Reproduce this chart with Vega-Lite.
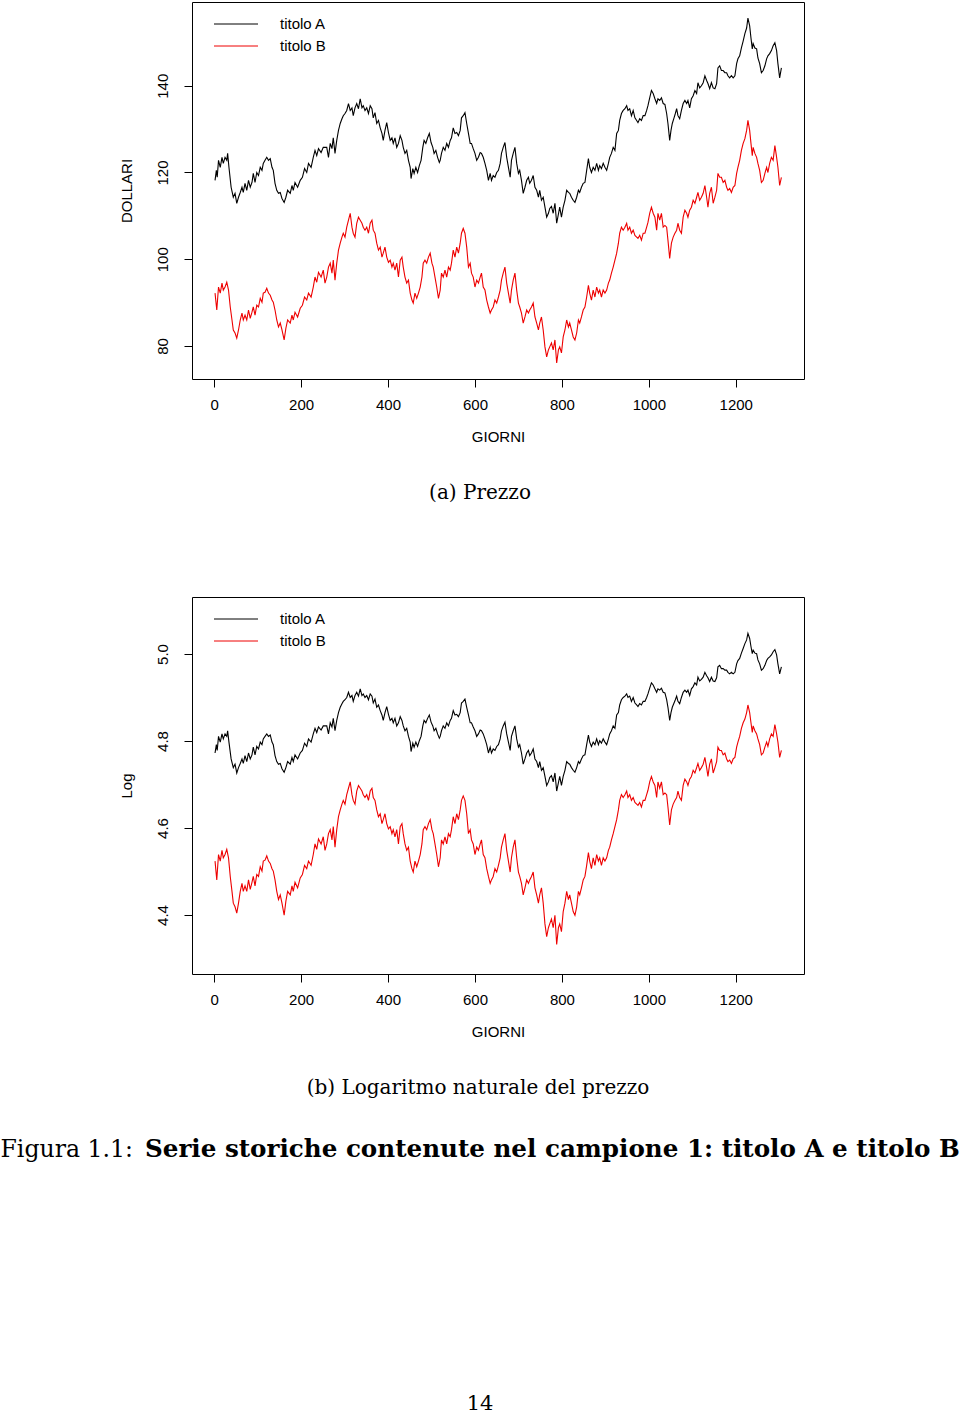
{
  "$schema": "https://vega.github.io/schema/vega-lite/v6.json",
  "padding": {"left": 0, "top": 1, "right": 0, "bottom": 2},
  "background": "white",
  "datasets": {
    "prezzi": [
      {"g":2,"s":"titolo A","p":118.2},{"g":5,"s":"titolo A","p":120.5},{"g":7,"s":"titolo A","p":118.9},{"g":10,"s":"titolo A","p":122.8},{"g":14,"s":"titolo A","p":121.2},{"g":18,"s":"titolo A","p":123.5},{"g":21,"s":"titolo A","p":122.1},{"g":25,"s":"titolo A","p":123.5},{"g":29,"s":"titolo A","p":122.8},{"g":31,"s":"titolo A","p":124.4},{"g":34,"s":"titolo A","p":121.2},{"g":39,"s":"titolo A","p":116.6},{"g":44,"s":"titolo A","p":114.3},{"g":48,"s":"titolo A","p":115.2},{"g":52,"s":"titolo A","p":112.9},{"g":56,"s":"titolo A","p":114.3},{"g":60,"s":"titolo A","p":115.4},{"g":64,"s":"titolo A","p":116.6},{"g":67,"s":"titolo A","p":115.4},{"g":71,"s":"titolo A","p":117.5},{"g":75,"s":"titolo A","p":115.9},{"g":79,"s":"titolo A","p":118.2},{"g":83,"s":"titolo A","p":116.6},{"g":87,"s":"titolo A","p":117.7},{"g":90,"s":"titolo A","p":119.8},{"g":94,"s":"titolo A","p":117.7},{"g":98,"s":"titolo A","p":120.0},{"g":102,"s":"titolo A","p":119.3},{"g":106,"s":"titolo A","p":121.2},{"g":110,"s":"titolo A","p":120.5},{"g":113,"s":"titolo A","p":122.1},{"g":117,"s":"titolo A","p":122.8},{"g":121,"s":"titolo A","p":123.5},{"g":125,"s":"titolo A","p":122.8},{"g":129,"s":"titolo A","p":123.2},{"g":133,"s":"titolo A","p":121.2},{"g":136,"s":"titolo A","p":120.5},{"g":140,"s":"titolo A","p":117.5},{"g":144,"s":"titolo A","p":115.9},{"g":148,"s":"titolo A","p":115.2},{"g":152,"s":"titolo A","p":115.4},{"g":156,"s":"titolo A","p":114.0},{"g":161,"s":"titolo A","p":113.1},{"g":165,"s":"titolo A","p":114.3},{"g":169,"s":"titolo A","p":115.9},{"g":175,"s":"titolo A","p":115.2},{"g":179,"s":"titolo A","p":117.0},{"g":182,"s":"titolo A","p":115.9},{"g":186,"s":"titolo A","p":117.7},{"g":192,"s":"titolo A","p":116.6},{"g":198,"s":"titolo A","p":118.2},{"g":203,"s":"titolo A","p":118.9},{"g":208,"s":"titolo A","p":120.9},{"g":213,"s":"titolo A","p":120.0},{"g":217,"s":"titolo A","p":122.1},{"g":223,"s":"titolo A","p":121.2},{"g":228,"s":"titolo A","p":123.5},{"g":232,"s":"titolo A","p":125.1},{"g":236,"s":"titolo A","p":123.9},{"g":240,"s":"titolo A","p":125.5},{"g":246,"s":"titolo A","p":124.6},{"g":251,"s":"titolo A","p":125.8},{"g":259,"s":"titolo A","p":125.8},{"g":263,"s":"titolo A","p":123.5},{"g":267,"s":"titolo A","p":126.7},{"g":271,"s":"titolo A","p":125.5},{"g":274,"s":"titolo A","p":128.0},{"g":278,"s":"titolo A","p":124.4},{"g":282,"s":"titolo A","p":127.4},{"g":286,"s":"titolo A","p":129.7},{"g":290,"s":"titolo A","p":131.3},{"g":294,"s":"titolo A","p":132.4},{"g":297,"s":"titolo A","p":133.1},{"g":301,"s":"titolo A","p":133.6},{"g":305,"s":"titolo A","p":134.3},{"g":309,"s":"titolo A","p":135.9},{"g":313,"s":"titolo A","p":134.3},{"g":317,"s":"titolo A","p":134.9},{"g":320,"s":"titolo A","p":133.1},{"g":324,"s":"titolo A","p":134.9},{"g":328,"s":"titolo A","p":135.9},{"g":332,"s":"titolo A","p":134.7},{"g":336,"s":"titolo A","p":137.0},{"g":340,"s":"titolo A","p":134.9},{"g":343,"s":"titolo A","p":135.4},{"g":347,"s":"titolo A","p":134.3},{"g":351,"s":"titolo A","p":134.9},{"g":355,"s":"titolo A","p":133.6},{"g":359,"s":"titolo A","p":135.4},{"g":363,"s":"titolo A","p":134.7},{"g":366,"s":"titolo A","p":132.6},{"g":370,"s":"titolo A","p":133.8},{"g":374,"s":"titolo A","p":131.3},{"g":378,"s":"titolo A","p":132.0},{"g":382,"s":"titolo A","p":130.3},{"g":386,"s":"titolo A","p":129.0},{"g":389,"s":"titolo A","p":127.4},{"g":393,"s":"titolo A","p":129.7},{"g":397,"s":"titolo A","p":131.5},{"g":401,"s":"titolo A","p":129.2},{"g":405,"s":"titolo A","p":127.4},{"g":409,"s":"titolo A","p":128.0},{"g":412,"s":"titolo A","p":126.7},{"g":416,"s":"titolo A","p":128.0},{"g":420,"s":"titolo A","p":125.8},{"g":424,"s":"titolo A","p":126.7},{"g":428,"s":"titolo A","p":128.5},{"g":432,"s":"titolo A","p":127.4},{"g":435,"s":"titolo A","p":125.8},{"g":439,"s":"titolo A","p":124.4},{"g":443,"s":"titolo A","p":125.1},{"g":447,"s":"titolo A","p":122.8},{"g":451,"s":"titolo A","p":121.2},{"g":453,"s":"titolo A","p":118.6},{"g":457,"s":"titolo A","p":120.9},{"g":460,"s":"titolo A","p":119.8},{"g":464,"s":"titolo A","p":121.2},{"g":468,"s":"titolo A","p":120.0},{"g":472,"s":"titolo A","p":121.6},{"g":476,"s":"titolo A","p":122.8},{"g":480,"s":"titolo A","p":125.8},{"g":483,"s":"titolo A","p":127.4},{"g":487,"s":"titolo A","p":126.7},{"g":491,"s":"titolo A","p":128.0},{"g":495,"s":"titolo A","p":129.0},{"g":499,"s":"titolo A","p":126.9},{"g":503,"s":"titolo A","p":125.8},{"g":506,"s":"titolo A","p":124.4},{"g":510,"s":"titolo A","p":125.1},{"g":514,"s":"titolo A","p":123.5},{"g":518,"s":"titolo A","p":122.3},{"g":520,"s":"titolo A","p":122.8},{"g":523,"s":"titolo A","p":124.4},{"g":527,"s":"titolo A","p":125.8},{"g":531,"s":"titolo A","p":125.1},{"g":535,"s":"titolo A","p":126.7},{"g":539,"s":"titolo A","p":125.8},{"g":543,"s":"titolo A","p":127.4},{"g":546,"s":"titolo A","p":128.0},{"g":550,"s":"titolo A","p":130.3},{"g":554,"s":"titolo A","p":129.0},{"g":558,"s":"titolo A","p":129.2},{"g":562,"s":"titolo A","p":128.5},{"g":566,"s":"titolo A","p":129.7},{"g":569,"s":"titolo A","p":132.6},{"g":573,"s":"titolo A","p":133.1},{"g":577,"s":"titolo A","p":133.8},{"g":581,"s":"titolo A","p":131.3},{"g":585,"s":"titolo A","p":129.0},{"g":589,"s":"titolo A","p":126.7},{"g":592,"s":"titolo A","p":126.7},{"g":596,"s":"titolo A","p":125.5},{"g":600,"s":"titolo A","p":124.4},{"g":604,"s":"titolo A","p":122.8},{"g":608,"s":"titolo A","p":123.5},{"g":612,"s":"titolo A","p":124.6},{"g":615,"s":"titolo A","p":124.4},{"g":619,"s":"titolo A","p":123.5},{"g":623,"s":"titolo A","p":122.1},{"g":627,"s":"titolo A","p":120.5},{"g":631,"s":"titolo A","p":118.2},{"g":635,"s":"titolo A","p":119.8},{"g":638,"s":"titolo A","p":118.2},{"g":642,"s":"titolo A","p":119.3},{"g":646,"s":"titolo A","p":118.9},{"g":650,"s":"titolo A","p":120.0},{"g":654,"s":"titolo A","p":120.5},{"g":658,"s":"titolo A","p":122.1},{"g":661,"s":"titolo A","p":124.4},{"g":665,"s":"titolo A","p":125.8},{"g":669,"s":"titolo A","p":126.9},{"g":673,"s":"titolo A","p":123.5},{"g":677,"s":"titolo A","p":121.2},{"g":681,"s":"titolo A","p":118.9},{"g":684,"s":"titolo A","p":122.8},{"g":688,"s":"titolo A","p":124.4},{"g":692,"s":"titolo A","p":125.8},{"g":696,"s":"titolo A","p":122.1},{"g":700,"s":"titolo A","p":119.8},{"g":703,"s":"titolo A","p":120.5},{"g":707,"s":"titolo A","p":118.2},{"g":711,"s":"titolo A","p":115.2},{"g":715,"s":"titolo A","p":116.6},{"g":719,"s":"titolo A","p":118.2},{"g":723,"s":"titolo A","p":118.9},{"g":726,"s":"titolo A","p":117.5},{"g":730,"s":"titolo A","p":118.2},{"g":734,"s":"titolo A","p":119.3},{"g":738,"s":"titolo A","p":116.6},{"g":742,"s":"titolo A","p":115.9},{"g":746,"s":"titolo A","p":114.3},{"g":749,"s":"titolo A","p":115.9},{"g":753,"s":"titolo A","p":113.6},{"g":757,"s":"titolo A","p":114.3},{"g":761,"s":"titolo A","p":112.0},{"g":765,"s":"titolo A","p":109.7},{"g":769,"s":"titolo A","p":110.6},{"g":772,"s":"titolo A","p":111.7},{"g":776,"s":"titolo A","p":112.2},{"g":780,"s":"titolo A","p":110.6},{"g":784,"s":"titolo A","p":112.9},{"g":788,"s":"titolo A","p":108.3},{"g":795,"s":"titolo A","p":112.0},{"g":799,"s":"titolo A","p":109.7},{"g":803,"s":"titolo A","p":112.0},{"g":807,"s":"titolo A","p":113.6},{"g":811,"s":"titolo A","p":115.9},{"g":815,"s":"titolo A","p":115.4},{"g":818,"s":"titolo A","p":115.2},{"g":822,"s":"titolo A","p":114.3},{"g":826,"s":"titolo A","p":113.6},{"g":830,"s":"titolo A","p":113.1},{"g":834,"s":"titolo A","p":114.3},{"g":838,"s":"titolo A","p":115.9},{"g":841,"s":"titolo A","p":115.4},{"g":845,"s":"titolo A","p":116.6},{"g":849,"s":"titolo A","p":117.5},{"g":853,"s":"titolo A","p":117.7},{"g":857,"s":"titolo A","p":120.5},{"g":861,"s":"titolo A","p":123.2},{"g":864,"s":"titolo A","p":121.2},{"g":868,"s":"titolo A","p":120.0},{"g":872,"s":"titolo A","p":121.2},{"g":876,"s":"titolo A","p":120.5},{"g":880,"s":"titolo A","p":122.1},{"g":884,"s":"titolo A","p":120.5},{"g":887,"s":"titolo A","p":121.6},{"g":891,"s":"titolo A","p":120.9},{"g":895,"s":"titolo A","p":122.1},{"g":899,"s":"titolo A","p":121.2},{"g":903,"s":"titolo A","p":120.5},{"g":907,"s":"titolo A","p":122.1},{"g":910,"s":"titolo A","p":123.5},{"g":914,"s":"titolo A","p":124.4},{"g":918,"s":"titolo A","p":125.8},{"g":922,"s":"titolo A","p":125.1},{"g":926,"s":"titolo A","p":129.0},{"g":930,"s":"titolo A","p":129.7},{"g":933,"s":"titolo A","p":132.0},{"g":937,"s":"titolo A","p":133.6},{"g":941,"s":"titolo A","p":134.3},{"g":945,"s":"titolo A","p":134.7},{"g":949,"s":"titolo A","p":135.4},{"g":952,"s":"titolo A","p":134.3},{"g":956,"s":"titolo A","p":134.7},{"g":960,"s":"titolo A","p":133.1},{"g":964,"s":"titolo A","p":134.3},{"g":968,"s":"titolo A","p":132.6},{"g":972,"s":"titolo A","p":132.0},{"g":975,"s":"titolo A","p":131.5},{"g":979,"s":"titolo A","p":132.4},{"g":983,"s":"titolo A","p":132.0},{"g":987,"s":"titolo A","p":133.1},{"g":991,"s":"titolo A","p":133.1},{"g":995,"s":"titolo A","p":134.3},{"g":998,"s":"titolo A","p":135.4},{"g":1002,"s":"titolo A","p":137.2},{"g":1006,"s":"titolo A","p":138.9},{"g":1010,"s":"titolo A","p":138.2},{"g":1014,"s":"titolo A","p":137.0},{"g":1018,"s":"titolo A","p":135.9},{"g":1021,"s":"titolo A","p":137.0},{"g":1025,"s":"titolo A","p":136.6},{"g":1029,"s":"titolo A","p":137.2},{"g":1033,"s":"titolo A","p":135.9},{"g":1037,"s":"titolo A","p":135.7},{"g":1041,"s":"titolo A","p":133.6},{"g":1044,"s":"titolo A","p":131.3},{"g":1048,"s":"titolo A","p":127.4},{"g":1051,"s":"titolo A","p":129.7},{"g":1054,"s":"titolo A","p":131.3},{"g":1058,"s":"titolo A","p":132.6},{"g":1061,"s":"titolo A","p":133.6},{"g":1064,"s":"titolo A","p":134.7},{"g":1067,"s":"titolo A","p":133.1},{"g":1071,"s":"titolo A","p":132.4},{"g":1075,"s":"titolo A","p":134.3},{"g":1079,"s":"titolo A","p":135.9},{"g":1083,"s":"titolo A","p":136.6},{"g":1087,"s":"titolo A","p":135.9},{"g":1090,"s":"titolo A","p":136.6},{"g":1094,"s":"titolo A","p":134.9},{"g":1098,"s":"titolo A","p":137.0},{"g":1102,"s":"titolo A","p":137.7},{"g":1106,"s":"titolo A","p":138.9},{"g":1110,"s":"titolo A","p":138.2},{"g":1113,"s":"titolo A","p":140.7},{"g":1117,"s":"titolo A","p":139.5},{"g":1121,"s":"titolo A","p":140.0},{"g":1125,"s":"titolo A","p":140.7},{"g":1129,"s":"titolo A","p":142.3},{"g":1133,"s":"titolo A","p":141.2},{"g":1136,"s":"titolo A","p":140.5},{"g":1140,"s":"titolo A","p":139.3},{"g":1144,"s":"titolo A","p":140.7},{"g":1148,"s":"titolo A","p":139.5},{"g":1152,"s":"titolo A","p":139.3},{"g":1156,"s":"titolo A","p":140.5},{"g":1159,"s":"titolo A","p":144.1},{"g":1163,"s":"titolo A","p":144.6},{"g":1167,"s":"titolo A","p":143.5},{"g":1171,"s":"titolo A","p":143.5},{"g":1175,"s":"titolo A","p":143.0},{"g":1179,"s":"titolo A","p":143.0},{"g":1182,"s":"titolo A","p":142.3},{"g":1186,"s":"titolo A","p":141.8},{"g":1190,"s":"titolo A","p":142.3},{"g":1194,"s":"titolo A","p":141.8},{"g":1198,"s":"titolo A","p":142.3},{"g":1202,"s":"titolo A","p":145.1},{"g":1205,"s":"titolo A","p":146.2},{"g":1209,"s":"titolo A","p":146.9},{"g":1213,"s":"titolo A","p":148.7},{"g":1217,"s":"titolo A","p":150.3},{"g":1221,"s":"titolo A","p":152.0},{"g":1225,"s":"titolo A","p":153.3},{"g":1228,"s":"titolo A","p":155.6},{"g":1232,"s":"titolo A","p":153.8},{"g":1235,"s":"titolo A","p":151.0},{"g":1238,"s":"titolo A","p":148.5},{"g":1240,"s":"titolo A","p":149.7},{"g":1244,"s":"titolo A","p":148.7},{"g":1248,"s":"titolo A","p":148.5},{"g":1251,"s":"titolo A","p":146.4},{"g":1255,"s":"titolo A","p":145.1},{"g":1259,"s":"titolo A","p":143.0},{"g":1263,"s":"titolo A","p":143.5},{"g":1267,"s":"titolo A","p":144.6},{"g":1271,"s":"titolo A","p":146.2},{"g":1274,"s":"titolo A","p":146.9},{"g":1278,"s":"titolo A","p":147.4},{"g":1282,"s":"titolo A","p":148.1},{"g":1286,"s":"titolo A","p":149.2},{"g":1290,"s":"titolo A","p":149.9},{"g":1294,"s":"titolo A","p":148.1},{"g":1297,"s":"titolo A","p":145.1},{"g":1301,"s":"titolo A","p":141.8},{"g":1305,"s":"titolo A","p":144.1},
      {"g":2,"s":"titolo B","p":92.2},{"g":6,"s":"titolo B","p":88.3},{"g":10,"s":"titolo B","p":93.6},{"g":14,"s":"titolo B","p":92.2},{"g":18,"s":"titolo B","p":94.5},{"g":21,"s":"titolo B","p":92.9},{"g":25,"s":"titolo B","p":93.6},{"g":29,"s":"titolo B","p":94.7},{"g":33,"s":"titolo B","p":92.9},{"g":37,"s":"titolo B","p":89.0},{"g":41,"s":"titolo B","p":86.0},{"g":44,"s":"titolo B","p":83.7},{"g":48,"s":"titolo B","p":83.0},{"g":52,"s":"titolo B","p":81.8},{"g":56,"s":"titolo B","p":83.7},{"g":60,"s":"titolo B","p":86.0},{"g":64,"s":"titolo B","p":87.6},{"g":67,"s":"titolo B","p":86.0},{"g":71,"s":"titolo B","p":87.1},{"g":75,"s":"titolo B","p":86.0},{"g":79,"s":"titolo B","p":88.3},{"g":83,"s":"titolo B","p":86.4},{"g":87,"s":"titolo B","p":87.8},{"g":90,"s":"titolo B","p":89.0},{"g":94,"s":"titolo B","p":87.1},{"g":98,"s":"titolo B","p":89.4},{"g":102,"s":"titolo B","p":89.0},{"g":106,"s":"titolo B","p":91.0},{"g":110,"s":"titolo B","p":90.1},{"g":113,"s":"titolo B","p":92.2},{"g":117,"s":"titolo B","p":92.4},{"g":121,"s":"titolo B","p":93.3},{"g":125,"s":"titolo B","p":92.2},{"g":129,"s":"titolo B","p":91.7},{"g":133,"s":"titolo B","p":90.6},{"g":136,"s":"titolo B","p":90.1},{"g":140,"s":"titolo B","p":88.3},{"g":144,"s":"titolo B","p":86.0},{"g":148,"s":"titolo B","p":84.4},{"g":152,"s":"titolo B","p":85.3},{"g":156,"s":"titolo B","p":83.7},{"g":161,"s":"titolo B","p":81.4},{"g":165,"s":"titolo B","p":84.1},{"g":169,"s":"titolo B","p":86.0},{"g":175,"s":"titolo B","p":85.3},{"g":179,"s":"titolo B","p":87.1},{"g":182,"s":"titolo B","p":86.0},{"g":186,"s":"titolo B","p":87.8},{"g":192,"s":"titolo B","p":86.7},{"g":198,"s":"titolo B","p":88.7},{"g":203,"s":"titolo B","p":89.4},{"g":208,"s":"titolo B","p":91.3},{"g":213,"s":"titolo B","p":90.6},{"g":217,"s":"titolo B","p":92.2},{"g":223,"s":"titolo B","p":91.3},{"g":228,"s":"titolo B","p":93.6},{"g":232,"s":"titolo B","p":95.9},{"g":236,"s":"titolo B","p":94.7},{"g":240,"s":"titolo B","p":97.0},{"g":246,"s":"titolo B","p":95.9},{"g":251,"s":"titolo B","p":97.5},{"g":255,"s":"titolo B","p":94.5},{"g":259,"s":"titolo B","p":95.9},{"g":263,"s":"titolo B","p":98.2},{"g":267,"s":"titolo B","p":99.1},{"g":271,"s":"titolo B","p":96.8},{"g":274,"s":"titolo B","p":99.8},{"g":278,"s":"titolo B","p":95.2},{"g":282,"s":"titolo B","p":99.1},{"g":286,"s":"titolo B","p":102.1},{"g":290,"s":"titolo B","p":103.7},{"g":294,"s":"titolo B","p":105.1},{"g":297,"s":"titolo B","p":106.0},{"g":301,"s":"titolo B","p":105.1},{"g":305,"s":"titolo B","p":107.4},{"g":309,"s":"titolo B","p":109.0},{"g":313,"s":"titolo B","p":110.6},{"g":317,"s":"titolo B","p":107.4},{"g":320,"s":"titolo B","p":106.0},{"g":324,"s":"titolo B","p":105.1},{"g":328,"s":"titolo B","p":108.3},{"g":332,"s":"titolo B","p":109.7},{"g":336,"s":"titolo B","p":109.0},{"g":340,"s":"titolo B","p":108.3},{"g":343,"s":"titolo B","p":107.4},{"g":347,"s":"titolo B","p":106.7},{"g":351,"s":"titolo B","p":107.4},{"g":355,"s":"titolo B","p":106.0},{"g":359,"s":"titolo B","p":108.3},{"g":363,"s":"titolo B","p":109.0},{"g":366,"s":"titolo B","p":106.7},{"g":370,"s":"titolo B","p":106.0},{"g":374,"s":"titolo B","p":103.7},{"g":378,"s":"titolo B","p":102.1},{"g":382,"s":"titolo B","p":102.8},{"g":386,"s":"titolo B","p":100.5},{"g":389,"s":"titolo B","p":101.4},{"g":393,"s":"titolo B","p":102.8},{"g":397,"s":"titolo B","p":100.5},{"g":401,"s":"titolo B","p":99.3},{"g":405,"s":"titolo B","p":99.8},{"g":409,"s":"titolo B","p":98.2},{"g":412,"s":"titolo B","p":99.1},{"g":416,"s":"titolo B","p":97.5},{"g":420,"s":"titolo B","p":99.1},{"g":424,"s":"titolo B","p":95.9},{"g":428,"s":"titolo B","p":99.8},{"g":432,"s":"titolo B","p":100.5},{"g":435,"s":"titolo B","p":98.2},{"g":439,"s":"titolo B","p":95.9},{"g":443,"s":"titolo B","p":94.5},{"g":447,"s":"titolo B","p":95.2},{"g":451,"s":"titolo B","p":92.2},{"g":455,"s":"titolo B","p":90.6},{"g":458,"s":"titolo B","p":89.9},{"g":462,"s":"titolo B","p":92.2},{"g":466,"s":"titolo B","p":91.0},{"g":470,"s":"titolo B","p":92.2},{"g":474,"s":"titolo B","p":93.6},{"g":478,"s":"titolo B","p":95.9},{"g":481,"s":"titolo B","p":99.1},{"g":485,"s":"titolo B","p":99.8},{"g":489,"s":"titolo B","p":99.1},{"g":493,"s":"titolo B","p":100.5},{"g":497,"s":"titolo B","p":101.4},{"g":501,"s":"titolo B","p":99.1},{"g":504,"s":"titolo B","p":98.2},{"g":508,"s":"titolo B","p":95.9},{"g":512,"s":"titolo B","p":93.6},{"g":516,"s":"titolo B","p":91.0},{"g":520,"s":"titolo B","p":92.9},{"g":523,"s":"titolo B","p":96.8},{"g":527,"s":"titolo B","p":95.9},{"g":531,"s":"titolo B","p":97.5},{"g":535,"s":"titolo B","p":95.9},{"g":539,"s":"titolo B","p":98.2},{"g":543,"s":"titolo B","p":97.5},{"g":546,"s":"titolo B","p":99.1},{"g":550,"s":"titolo B","p":102.1},{"g":554,"s":"titolo B","p":100.5},{"g":558,"s":"titolo B","p":102.8},{"g":562,"s":"titolo B","p":101.4},{"g":566,"s":"titolo B","p":103.7},{"g":569,"s":"titolo B","p":106.0},{"g":573,"s":"titolo B","p":107.1},{"g":577,"s":"titolo B","p":106.0},{"g":581,"s":"titolo B","p":102.8},{"g":585,"s":"titolo B","p":98.2},{"g":589,"s":"titolo B","p":99.1},{"g":592,"s":"titolo B","p":96.8},{"g":596,"s":"titolo B","p":95.9},{"g":600,"s":"titolo B","p":93.6},{"g":604,"s":"titolo B","p":95.2},{"g":608,"s":"titolo B","p":94.5},{"g":612,"s":"titolo B","p":95.9},{"g":615,"s":"titolo B","p":96.8},{"g":619,"s":"titolo B","p":93.6},{"g":623,"s":"titolo B","p":92.9},{"g":627,"s":"titolo B","p":90.6},{"g":631,"s":"titolo B","p":89.0},{"g":635,"s":"titolo B","p":87.6},{"g":638,"s":"titolo B","p":88.3},{"g":642,"s":"titolo B","p":89.0},{"g":646,"s":"titolo B","p":90.6},{"g":650,"s":"titolo B","p":89.9},{"g":654,"s":"titolo B","p":91.3},{"g":658,"s":"titolo B","p":92.9},{"g":661,"s":"titolo B","p":95.2},{"g":665,"s":"titolo B","p":96.8},{"g":669,"s":"titolo B","p":98.2},{"g":673,"s":"titolo B","p":94.5},{"g":677,"s":"titolo B","p":92.2},{"g":681,"s":"titolo B","p":89.9},{"g":684,"s":"titolo B","p":92.9},{"g":688,"s":"titolo B","p":95.2},{"g":692,"s":"titolo B","p":96.8},{"g":696,"s":"titolo B","p":92.9},{"g":700,"s":"titolo B","p":89.9},{"g":703,"s":"titolo B","p":89.0},{"g":707,"s":"titolo B","p":87.6},{"g":711,"s":"titolo B","p":85.3},{"g":715,"s":"titolo B","p":86.7},{"g":719,"s":"titolo B","p":88.3},{"g":723,"s":"titolo B","p":87.6},{"g":726,"s":"titolo B","p":88.3},{"g":730,"s":"titolo B","p":89.0},{"g":734,"s":"titolo B","p":89.9},{"g":738,"s":"titolo B","p":86.7},{"g":742,"s":"titolo B","p":85.3},{"g":746,"s":"titolo B","p":83.7},{"g":749,"s":"titolo B","p":85.3},{"g":753,"s":"titolo B","p":86.7},{"g":757,"s":"titolo B","p":83.7},{"g":761,"s":"titolo B","p":79.8},{"g":765,"s":"titolo B","p":77.5},{"g":769,"s":"titolo B","p":79.1},{"g":772,"s":"titolo B","p":79.8},{"g":776,"s":"titolo B","p":80.7},{"g":780,"s":"titolo B","p":79.1},{"g":784,"s":"titolo B","p":81.4},{"g":788,"s":"titolo B","p":76.1},{"g":792,"s":"titolo B","p":79.1},{"g":795,"s":"titolo B","p":79.8},{"g":799,"s":"titolo B","p":78.4},{"g":803,"s":"titolo B","p":82.1},{"g":807,"s":"titolo B","p":83.7},{"g":811,"s":"titolo B","p":86.0},{"g":815,"s":"titolo B","p":84.4},{"g":818,"s":"titolo B","p":85.3},{"g":822,"s":"titolo B","p":83.7},{"g":826,"s":"titolo B","p":82.1},{"g":830,"s":"titolo B","p":81.4},{"g":834,"s":"titolo B","p":83.0},{"g":838,"s":"titolo B","p":86.0},{"g":841,"s":"titolo B","p":85.3},{"g":845,"s":"titolo B","p":86.7},{"g":849,"s":"titolo B","p":88.3},{"g":853,"s":"titolo B","p":89.0},{"g":857,"s":"titolo B","p":91.3},{"g":861,"s":"titolo B","p":94.0},{"g":864,"s":"titolo B","p":92.2},{"g":868,"s":"titolo B","p":90.6},{"g":872,"s":"titolo B","p":92.9},{"g":876,"s":"titolo B","p":91.3},{"g":880,"s":"titolo B","p":93.6},{"g":884,"s":"titolo B","p":92.2},{"g":887,"s":"titolo B","p":92.9},{"g":891,"s":"titolo B","p":91.3},{"g":895,"s":"titolo B","p":92.9},{"g":899,"s":"titolo B","p":92.2},{"g":903,"s":"titolo B","p":92.9},{"g":907,"s":"titolo B","p":94.5},{"g":910,"s":"titolo B","p":95.2},{"g":914,"s":"titolo B","p":96.8},{"g":918,"s":"titolo B","p":98.2},{"g":922,"s":"titolo B","p":99.8},{"g":926,"s":"titolo B","p":101.4},{"g":930,"s":"titolo B","p":103.7},{"g":933,"s":"titolo B","p":106.0},{"g":937,"s":"titolo B","p":107.4},{"g":941,"s":"titolo B","p":106.7},{"g":945,"s":"titolo B","p":107.4},{"g":949,"s":"titolo B","p":108.3},{"g":952,"s":"titolo B","p":106.7},{"g":956,"s":"titolo B","p":107.4},{"g":960,"s":"titolo B","p":106.0},{"g":964,"s":"titolo B","p":106.7},{"g":968,"s":"titolo B","p":105.5},{"g":972,"s":"titolo B","p":105.1},{"g":975,"s":"titolo B","p":104.8},{"g":979,"s":"titolo B","p":105.5},{"g":983,"s":"titolo B","p":104.4},{"g":987,"s":"titolo B","p":106.0},{"g":991,"s":"titolo B","p":106.0},{"g":995,"s":"titolo B","p":107.4},{"g":998,"s":"titolo B","p":108.5},{"g":1002,"s":"titolo B","p":110.6},{"g":1006,"s":"titolo B","p":112.0},{"g":1010,"s":"titolo B","p":110.6},{"g":1014,"s":"titolo B","p":109.7},{"g":1018,"s":"titolo B","p":106.7},{"g":1021,"s":"titolo B","p":110.6},{"g":1025,"s":"titolo B","p":109.0},{"g":1029,"s":"titolo B","p":110.6},{"g":1033,"s":"titolo B","p":107.4},{"g":1037,"s":"titolo B","p":107.8},{"g":1041,"s":"titolo B","p":107.4},{"g":1044,"s":"titolo B","p":104.4},{"g":1048,"s":"titolo B","p":100.2},{"g":1052,"s":"titolo B","p":103.7},{"g":1056,"s":"titolo B","p":105.1},{"g":1060,"s":"titolo B","p":106.0},{"g":1064,"s":"titolo B","p":106.7},{"g":1067,"s":"titolo B","p":108.3},{"g":1071,"s":"titolo B","p":106.7},{"g":1075,"s":"titolo B","p":106.0},{"g":1079,"s":"titolo B","p":109.7},{"g":1083,"s":"titolo B","p":111.3},{"g":1087,"s":"titolo B","p":110.6},{"g":1090,"s":"titolo B","p":109.7},{"g":1094,"s":"titolo B","p":111.3},{"g":1098,"s":"titolo B","p":112.0},{"g":1102,"s":"titolo B","p":113.6},{"g":1106,"s":"titolo B","p":112.9},{"g":1110,"s":"titolo B","p":114.3},{"g":1113,"s":"titolo B","p":115.4},{"g":1117,"s":"titolo B","p":113.6},{"g":1121,"s":"titolo B","p":114.3},{"g":1125,"s":"titolo B","p":115.2},{"g":1129,"s":"titolo B","p":117.0},{"g":1133,"s":"titolo B","p":114.3},{"g":1136,"s":"titolo B","p":112.0},{"g":1140,"s":"titolo B","p":115.2},{"g":1144,"s":"titolo B","p":116.6},{"g":1148,"s":"titolo B","p":112.9},{"g":1152,"s":"titolo B","p":114.3},{"g":1156,"s":"titolo B","p":115.9},{"g":1159,"s":"titolo B","p":119.8},{"g":1163,"s":"titolo B","p":118.9},{"g":1167,"s":"titolo B","p":118.9},{"g":1171,"s":"titolo B","p":117.7},{"g":1175,"s":"titolo B","p":118.2},{"g":1179,"s":"titolo B","p":116.6},{"g":1182,"s":"titolo B","p":115.9},{"g":1186,"s":"titolo B","p":116.3},{"g":1190,"s":"titolo B","p":115.4},{"g":1194,"s":"titolo B","p":116.6},{"g":1198,"s":"titolo B","p":117.0},{"g":1202,"s":"titolo B","p":119.8},{"g":1205,"s":"titolo B","p":121.2},{"g":1209,"s":"titolo B","p":122.8},{"g":1213,"s":"titolo B","p":125.1},{"g":1217,"s":"titolo B","p":126.7},{"g":1221,"s":"titolo B","p":127.8},{"g":1225,"s":"titolo B","p":129.7},{"g":1228,"s":"titolo B","p":132.0},{"g":1232,"s":"titolo B","p":129.7},{"g":1235,"s":"titolo B","p":126.7},{"g":1238,"s":"titolo B","p":123.9},{"g":1240,"s":"titolo B","p":125.8},{"g":1244,"s":"titolo B","p":124.4},{"g":1248,"s":"titolo B","p":123.5},{"g":1251,"s":"titolo B","p":122.1},{"g":1255,"s":"titolo B","p":120.5},{"g":1259,"s":"titolo B","p":117.7},{"g":1263,"s":"titolo B","p":118.2},{"g":1267,"s":"titolo B","p":119.8},{"g":1271,"s":"titolo B","p":121.2},{"g":1274,"s":"titolo B","p":120.0},{"g":1278,"s":"titolo B","p":122.1},{"g":1282,"s":"titolo B","p":123.5},{"g":1286,"s":"titolo B","p":122.8},{"g":1290,"s":"titolo B","p":126.2},{"g":1294,"s":"titolo B","p":123.5},{"g":1297,"s":"titolo B","p":121.2},{"g":1301,"s":"titolo B","p":117.0},{"g":1305,"s":"titolo B","p":118.9}
    ]
  },
  "config": {
    "view": {"stroke": "#000000", "strokeWidth": 1},
    "font": "Liberation Sans",
    "axis": {
      "domain": false, "grid": false, "ticks": true,
      "tickColor": "#000000", "tickSize": 8, "tickWidth": 1,
      "labelFont": "Liberation Sans", "labelFontSize": 15, "labelColor": "#000000",
      "titleFont": "Liberation Sans", "titleFontSize": 15, "titleFontWeight": "normal", "titleColor": "#000000",
      "labelFlush": false, "labelOverlap": false
    },
    "axisY": {"labelAngle": 270, "labelPadding": 14, "titlePadding": 21},
    "axisX": {"labelPadding": 10, "titlePadding": 17},
    "legend": {
      "orient": "none", "legendX": 33.5, "legendY": 11.5, "padding": 0,
      "symbolType": "M-2.2,0H2.2", "symbolSize": 400, "symbolStrokeWidth": 1,
      "labelOffset": 33.5, "rowPadding": 3,
      "labelFont": "Liberation Sans", "labelFontSize": 15, "labelColor": "#000000", "labelLimit": 0
    },
    "title": {"font": "DejaVu Serif", "fontWeight": "normal", "color": "#000000"}
  },
  "title": {"text": "14", "orient": "bottom", "anchor": "middle", "frame": "group", "offset": 200, "dx": 288, "fontSize": 21},
  "bounds": "flush",
  "spacing": 218,
  "resolve": {
    "scale": {"color": "independent", "x": "independent", "y": "independent"},
    "legend": {"color": "independent"}
  },
  "vconcat": [
    {
      "width": 612, "height": 377,
      "data": {"name": "prezzi"},
      "mark": {"type": "line", "strokeWidth": 1.1},
      "encoding": {
        "x": {"field": "g", "type": "quantitative",
              "scale": {"domain": [-51, 1357], "nice": false, "zero": false},
              "axis": {"title": "GIORNI", "values": [0, 200, 400, 600, 800, 1000, 1200], "format": "d"}},
        "y": {"field": "p", "type": "quantitative",
              "scale": {"domain": [72.4, 159.3], "nice": false, "zero": false},
              "axis": {"title": "DOLLARI", "values": [80, 100, 120, 140], "format": "d"}},
        "color": {"field": "s", "type": "nominal",
                  "scale": {"domain": ["titolo A", "titolo B"], "range": ["#000000", "#ee0000"]},
                  "legend": {"title": null}}
      },
      "title": {"text": "(a) Prezzo", "orient": "bottom", "anchor": "middle", "frame": "group", "offset": 39, "dx": -18, "fontSize": 20}
    },
    {
      "width": 612, "height": 377,
      "data": {"name": "prezzi"},
      "mark": {"type": "line", "strokeWidth": 1.1},
      "encoding": {
        "x": {"field": "g", "type": "quantitative",
              "scale": {"domain": [-51, 1357], "nice": false, "zero": false},
              "axis": {"title": "GIORNI", "values": [0, 200, 400, 600, 800, 1000, 1200], "format": "d"}},
        "y": {"field": "p", "type": "quantitative",
              "scale": {"type": "log", "domain": [71.12, 169.19], "nice": false, "zero": false},
              "axis": {"title": "Log", "values": [81.4509, 99.4843, 121.5104, 148.4132], "labelExpr": "format(log(datum.value), '.1f')"}},
        "color": {"field": "s", "type": "nominal",
                  "scale": {"domain": ["titolo A", "titolo B"], "range": ["#000000", "#ee0000"]},
                  "legend": {"title": null}}
      },
      "title": {"text": "(b) Logaritmo naturale del prezzo", "orient": "bottom", "anchor": "middle", "frame": "group", "offset": 39, "dx": -20, "fontSize": 20}
    },
    {
      "bounds": "flush",
      "spacing": 0,
      "hconcat": [
        {
          "width": 1, "height": 1,
          "data": {"values": []},
          "mark": "point",
          "encoding": {},
          "view": {"stroke": null},
          "title": {"text": "Figura 1.1:", "orient": "top", "anchor": "end", "frame": "group", "offset": 30, "dx": -60, "fontSize": 23.6, "fontWeight": "normal"}
        },
        {
          "width": 1, "height": 1,
          "data": {"values": []},
          "mark": "point",
          "encoding": {},
          "view": {"stroke": null},
          "title": {"text": "Serie storiche contenute nel campione 1: titolo A e titolo B", "orient": "top", "anchor": "start", "frame": "group", "offset": 29, "dx": -48, "fontSize": 24.6, "fontWeight": "bold"}
        }
      ]
    }
  ]
}
